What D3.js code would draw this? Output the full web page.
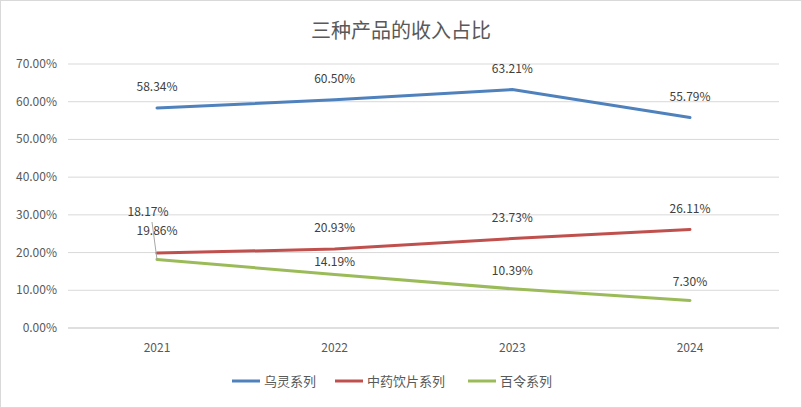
<!DOCTYPE html><html><head><meta charset="utf-8"><script src="https://cdn.jsdelivr.net/npm/d3@7"></script>
<style>body{margin:0;background:#fff}</style></head><body><svg id="c" width="802" height="408"></svg>
<script>
const categories=["2021","2022","2023","2024"];
const seriesNames=["乌灵系列","中药饮片系列","百令系列"];
const wuling=[58.34,60.50,63.21,55.79];
const yinpian=[19.86,20.93,23.73,26.11];
const bailing=[18.17,14.19,10.39,7.30];
const yTicks=[0,10,20,30,40,50,60,70];
const colors=["#4f81bd","#c0504d","#9bbb59"];
const svg=d3.select("#c");
const F="'Noto Sans CJK SC','Liberation Sans',sans-serif";
svg.append("rect").attr("x",0.5).attr("y",0.5).attr("width",801).attr("height",407).attr("fill","#fff").attr("stroke","#d9d9d9");
svg.append("text").attr("x",401).attr("y",38).attr("text-anchor","middle").attr("font-family",F).attr("font-size",20).attr("fill","#595959").text("三种产品的收入占比");
const x=d3.scalePoint().domain(categories).range([157,690]);
const y=d3.scaleLinear().domain([0,70]).range([328,64]);
const g=svg.append("g");
yTicks.forEach(t=>{g.append("line").attr("x1",68).attr("x2",779).attr("y1",y(t)).attr("y2",y(t)).attr("stroke",t==0?"#bfbfbf":"#d9d9d9");
g.append("text").attr("x",57).attr("y",y(t)+4).attr("text-anchor","end").attr("font-family",F).attr("font-size",12).attr("fill","#595959").text(t.toFixed(2)+"%");});
categories.forEach(c=>g.append("text").attr("x",x(c)).attr("y",352).attr("text-anchor","middle").attr("font-family",F).attr("font-size",12).attr("fill","#595959").text(c));
const data=[wuling,yinpian,bailing];
const line=d3.line().x((d,i)=>x(categories[i])).y(d=>y(d));
data.forEach((s,k)=>g.append("path").attr("d",line(s)).attr("fill","none").attr("stroke",colors[k]).attr("stroke-width",3).attr("stroke-linecap","round"));
function lab(v,cx,cy){g.append("text").attr("x",cx).attr("y",cy).attr("text-anchor","middle").attr("font-family",F).attr("font-size",12).attr("fill","#404040").text(v.toFixed(2)+"%");}
wuling.forEach((v,i)=>lab(v,x(categories[i]),y(v)-17));
yinpian.forEach((v,i)=>lab(v,x(categories[i]),i==0?y(v)-18:y(v)-17));
bailing.forEach((v,i)=>{if(i==0){lab(v,148,216);g.append("line").attr("x1",152).attr("y1",222).attr("x2",157).attr("y2",y(v)).attr("stroke","#a6a6a6");}else lab(v,x(categories[i]),y(v)-8-(i==1?0:6));});
const lx=[232,335,468];
seriesNames.forEach((n,k)=>{g.append("line").attr("x1",lx[k]).attr("x2",lx[k]+28).attr("y1",381).attr("y2",381).attr("stroke",colors[k]).attr("stroke-width",3);
g.append("text").attr("x",lx[k]+32).attr("y",386).attr("font-family",F).attr("font-size",13).attr("fill","#595959").text(n);});
</script></body></html>
